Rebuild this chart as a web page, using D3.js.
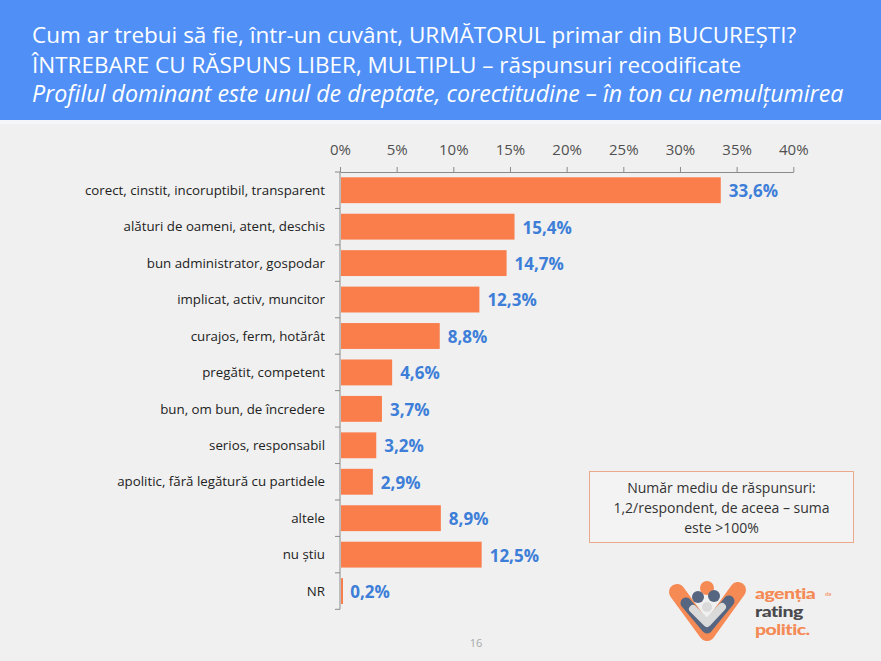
<!DOCTYPE html>
<html><head><meta charset="utf-8">
<script src="https://cdn.jsdelivr.net/npm/d3@7"></script>
<style>
html,body{margin:0;padding:0;background:#F0F0F0;}
svg{display:block;font-family:"Open Sans",sans-serif;}
</style></head>
<body>
<svg id="chart" width="881" height="661"></svg>
<script>
const titleLines = [
  "Cum ar trebui să fie, într-un cuvânt, URMĂTORUL primar din BUCUREȘTI?",
  "ÎNTREBARE CU RĂSPUNS LIBER, MULTIPLU – răspunsuri recodificate",
  "Profilul dominant este unul de dreptate, corectitudine – în ton cu nemulțumirea"
];
const categories = [
  "corect, cinstit, incoruptibil, transparent",
  "alături de oameni, atent, deschis",
  "bun administrator, gospodar",
  "implicat, activ, muncitor",
  "curajos, ferm, hotărât",
  "pregătit, competent",
  "bun, om bun, de încredere",
  "serios, responsabil",
  "apolitic, fără legătură cu partidele",
  "altele",
  "nu știu",
  "NR"
];
const values = [33.6, 15.4, 14.7, 12.3, 8.8, 4.6, 3.7, 3.2, 2.9, 8.9, 12.5, 0.2];
const tickValues = [0, 5, 10, 15, 20, 25, 30, 35, 40];
const noteLines = ["Număr mediu de răspunsuri:", "1,2/respondent, de aceea – suma", "este >100%"];
const pageNumber = "16";
const logoWords = ["agenția", "rating", "politic."];

const svg = d3.select("#chart");
const W = 881, H = 661;

// header
svg.append("rect").attr("x",0).attr("y",0).attr("width",W).attr("height",120).attr("fill","#4F8FF6");
svg.append("rect").attr("x",0).attr("y",120).attr("width",W).attr("height",4).attr("fill","#F4F6FA");
titleLines.forEach((t,i)=>{
  svg.append("text").attr("x",32).attr("y",43+i*29.5)
    .attr("fill","#fff").attr("font-size", i===2 ? 23.2 : 22.5)
    .attr("font-style", i===2 ? "italic" : "normal")
    .attr("font-weight",400)
    .text(t);
});

// scales
const x = d3.scaleLinear().domain([0,40]).range([340,793.3]);
const yb = d3.scaleBand().domain(categories).range([172,609.3]).padding(0);
const y = d3.scaleBand().domain(categories).range([172,609.3]).paddingInner(0.29).paddingOuter(0.145);

// top axis
const gx = svg.append("g").attr("transform","translate(0,172)")
  .call(d3.axisTop(x).tickValues(tickValues).tickSize(5).tickSizeOuter(0).tickFormat(d=>d+"%"));
gx.select(".domain").attr("stroke","#8a8a8a");
gx.selectAll(".tick line").attr("stroke","#8a8a8a");
gx.selectAll(".tick text").attr("fill","#505050").attr("font-size",15).attr("font-family","Open Sans").attr("dy","-0.6em");

// left axis (boundaries)
const ga = svg.append("g");
ga.append("line").attr("x1",x(0)).attr("x2",x(0)).attr("y1",yb.range()[0]).attr("y2",yb.range()[1]).attr("stroke","#8a8a8a");
const bounds = categories.map(c=>yb(c)).concat([yb(categories[categories.length-1])+yb.bandwidth()]);
ga.selectAll("line.t").data(bounds).join("line").attr("class","t")
  .attr("x1",x(0)-5).attr("x2",x(0)).attr("y1",d=>d).attr("y2",d=>d).attr("stroke","#8a8a8a");

// category labels
svg.append("g").selectAll("text").data(categories).join("text")
  .attr("x",325).attr("y",d=>y(d)+y.bandwidth()/2)
  .attr("dy","0.35em").attr("text-anchor","end")
  .attr("fill","#222").attr("font-size",13.3)
  .text(d=>d);

// bars
const data = categories.map((c,i)=>({c, v:values[i]}));
svg.append("g").selectAll("rect").data(data).join("rect")
  .attr("x",x(0)+1).attr("y",d=>y(d.c))
  .attr("width",d=>Math.max(2, x(d.v)-x(0)-1)).attr("height",y.bandwidth())
  .attr("fill","#FA7D4C");

// value labels
svg.append("g").selectAll("text").data(data).join("text")
  .attr("x",d=>x(d.v)+8).attr("y",d=>y(d.c)+y.bandwidth()/2+1)
  .attr("dy","0.35em").attr("fill","#3D7ED8")
  .attr("font-size",17).attr("font-weight",700)
  .text(d=>d.v.toFixed(1).replace(".",",")+"%");

// note box
svg.append("rect").attr("x",589.5).attr("y",471.5).attr("width",264).attr("height",71)
  .attr("fill","#F3F3F3").attr("stroke","#E9A98A").attr("stroke-width",1);
noteLines.forEach((t,i)=>{
  svg.append("text").attr("x",721.5).attr("y",493+i*20).attr("text-anchor","middle")
    .attr("fill","#333").attr("font-size",14).text(t);
});

// page number
svg.append("text").attr("x",476).attr("y",647).attr("text-anchor","middle")
  .attr("fill","#A8A8A8").attr("font-size",11).text(pageNumber);

// logo
const lg = svg.append("g");
lg.append("circle").attr("cx",707).attr("cy",588).attr("r",7).attr("fill","#F58A55");
lg.append("path").attr("d","M677,592 L707,633 L738,590").attr("fill","none")
  .attr("stroke","#F58A55").attr("stroke-width",16).attr("stroke-linecap","round").attr("stroke-linejoin","round");
lg.append("circle").attr("cx",698).attr("cy",597).attr("r",6).attr("fill","#566580");
lg.append("circle").attr("cx",714).attr("cy",596).attr("r",6).attr("fill","#566580");
lg.append("path").attr("d","M686,603 L707,628 L729,601").attr("fill","none")
  .attr("stroke","#566580").attr("stroke-width",11).attr("stroke-linecap","round").attr("stroke-linejoin","round");
lg.append("path").attr("d","M693,609 L707,623 L722,607").attr("fill","none")
  .attr("stroke","#DADADA").attr("stroke-width",8).attr("stroke-linecap","round").attr("stroke-linejoin","round");
lg.append("circle").attr("cx",707).attr("cy",607).attr("r",5).attr("fill","#DADADA");
const logoColors = ["#F58A55","#4A4A4E","#F58A55"];
const lw = lg.append("g").attr("transform","translate(755,0) scale(1.3,1)");
logoWords.forEach((w,i)=>{
  lw.append("text").attr("x",0).attr("y",599+i*18).attr("fill",logoColors[i])
    .attr("font-size",15).attr("font-weight",900).attr("font-family","Lato")
    .attr("letter-spacing",-0.4).text(w);
});
lg.append("text").attr("x",825).attr("y",596).attr("fill","#F58A55").attr("font-size",6).attr("font-family","Lato").text("de");
</script>
</body></html>
